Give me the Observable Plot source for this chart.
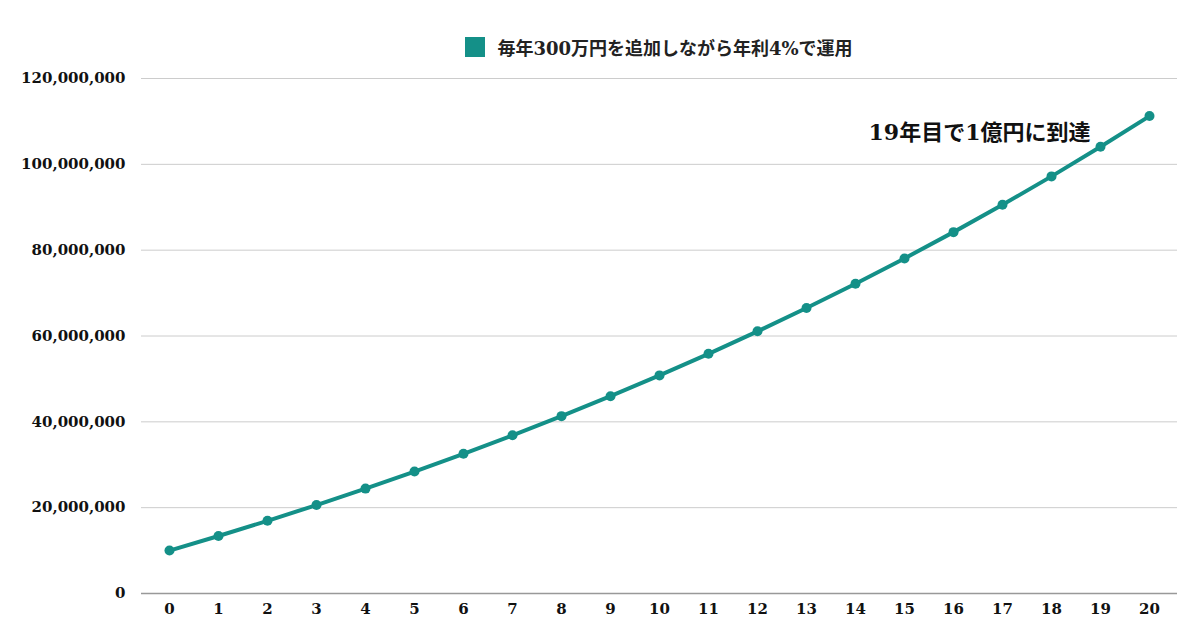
<!DOCTYPE html>
<html><head><meta charset="utf-8">
<script src="https://cdn.jsdelivr.net/npm/d3@7"></script>
<script src="https://cdn.jsdelivr.net/npm/@observablehq/plot@0.6"></script>
<style>
body{margin:0;background:#fff;font-family:"DejaVu Serif","Noto Sans CJK JP",serif;}
#legend{height:62px;display:flex;align-items:center;justify-content:center;padding:32px 23px 0 141px;box-sizing:border-box;font-weight:bold;font-size:18px;color:#222;}
#legend .sw{width:20px;height:20px;background:#149088;margin-right:12px;}
#legend span{font-family:"DejaVu Serif","Noto Sans CJK JP",serif;}
</style></head>
<body>
<div id="legend"><div class="sw"></div><span>毎年300万円を追加しながら年利4%で運用</span></div>
<div id="chart"></div>
<script>
const years = [0,1,2,3,4,5,6,7,8,9,10,11,12,13,14,15,16,17,18,19,20];
const balances = [10000000,13400000,16936000,20613000,24438000,28415000,32552000,36854000,41328000,45981000,50820000,55853000,61087000,66530000,72192000,78079000,84203000,90571000,97194000,104082000,111245000];
const yTicks = [0,20000000,40000000,60000000,80000000,100000000,120000000];
const annotationText = ["19年目で1億円に到達"];
const annotationYear = [19];
const annotationValue = [107400000];

const data = years.map((y,i)=>({year:y, value:balances[i]}));
const notes = annotationText.map((t,i)=>({text:t, year:annotationYear[i], value:annotationValue[i]}));
const color = "#149088";

const chart = Plot.plot({
  width:1200, height:568,
  marginLeft:141, marginRight:23, marginTop:16, marginBottom:37,
  style:{fontFamily:'"DejaVu Serif","Noto Sans CJK JP",serif', fontSize:"15px", fontWeight:"bold", color:"#111"},
  x:{type:"point", domain:years, padding:0.5, label:null, tickSize:0, tickPadding:10},
  y:{domain:[0,120000000], ticks:yTicks, label:null, tickSize:0, tickPadding:16, tickFormat:d=>d3.format(",")(d)},
  marks:[
    Plot.ruleY(yTicks.filter(d=>d>0), {stroke:"#cccccc", strokeWidth:1}),
    Plot.ruleY([0], {stroke:"#999999", strokeWidth:1.5}),
    Plot.line(data, {x:"year", y:"value", stroke:color, strokeWidth:4}),
    Plot.dot(data, {x:"year", y:"value", fill:color, r:5}),
    Plot.text(notes, {x:"year", y:"value", text:"text", textAnchor:"end", dx:-10, fontSize:22, fontWeight:"bold", fill:"#111"})
  ]
});
document.getElementById("chart").appendChild(chart);
</script>
</body></html>
